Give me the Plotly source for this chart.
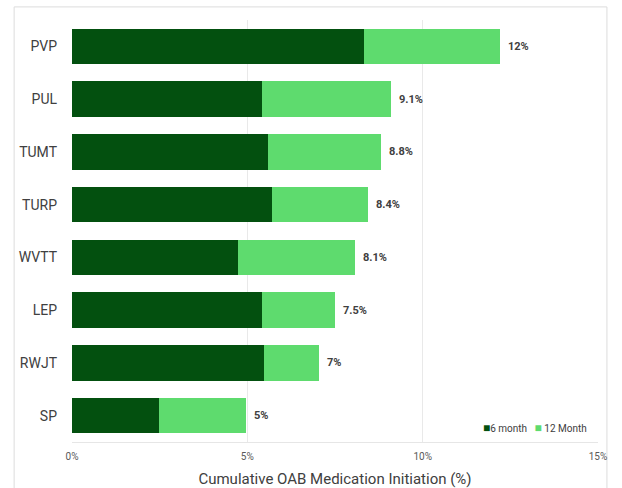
import plotly.graph_objects as go

categories = ["PVP", "PUL", "TUMT", "TURP", "WVTT", "LEP", "RWJT", "SP"]
six_month = [8.33, 5.43, 5.60, 5.70, 4.74, 5.42, 5.47, 2.49]
twelve_month = [12.2, 9.1, 8.81, 8.43, 8.07, 7.5, 7.03, 4.95]
total_labels = ["12%", "9.1%", "8.8%", "8.4%", "8.1%", "7.5%", "7%", "5%"]
x_ticks = [0, 5, 10, 15]
x_tick_labels = ["0%", "5%", "10%", "15%"]
series_names = ["6 month", "12 Month"]

dark = "#03500F"
light = "#5EDB6E"

increment = [t - s for t, s in zip(twelve_month, six_month)]

fig = go.Figure()
fig.add_trace(go.Bar(
    y=categories, x=six_month, orientation="h", name=series_names[0],
    marker=dict(color=dark, line=dict(width=0)),
    hoverinfo="skip", showlegend=False,
))
fig.add_trace(go.Bar(
    y=categories, x=increment, orientation="h", name=series_names[1],
    marker=dict(color=light, line=dict(width=0)),
    hoverinfo="skip", showlegend=False,
))

annotations = []
for cat, tot, lab in zip(categories, twelve_month, total_labels):
    annotations.append(dict(
        x=tot, y=cat, xref="x", yref="y", text=f"<b>{lab}</b>",
        showarrow=False, xanchor="left", yanchor="middle", xshift=6,
        font=dict(family="Roboto", size=11, color="#404040"),
    ))

# legend built as text
legend_text = (f"<span style='color:{dark};font-size:12px'>■</span>{series_names[0]}"
               f"&nbsp;&nbsp;&nbsp;<span style='color:{light};font-size:12px'>■</span> {series_names[1]}")
annotations.append(dict(
    x=0.983, y=0.033, xref="paper", yref="paper", text=legend_text,
    showarrow=False, xanchor="right", yanchor="middle",
    font=dict(family="Roboto", size=10, color="#404040"),
))

fig.update_layout(
    width=622, height=488,
    margin=dict(l=72, r=24, t=20, b=46, autoexpand=False),
    barmode="stack", bargap=0.33,
    plot_bgcolor="white", paper_bgcolor="white",
    font=dict(family="Roboto", color="#404040"),
    showlegend=False,
    annotations=annotations,
    xaxis=dict(
        range=[0, 15], tickvals=x_ticks, ticktext=x_tick_labels,
        showgrid=True, gridcolor="#e9e9e9", gridwidth=1,
        zeroline=False, showline=True, linecolor="#e6e6e6",
        tickfont=dict(size=10, color="#595959"), ticklabelstandoff=5,
        title=dict(text="Cumulative OAB Medication Initiation (%)",
                   font=dict(size=15, color="#404040"), standoff=17),
        automargin=False, fixedrange=True,
    ),
    yaxis=dict(
        categoryorder="array", categoryarray=categories[::-1],
        tickfont=dict(size=14, color="#404040"), ticklabelstandoff=14,
        showgrid=False, zeroline=False, showline=False, ticks="",
        automargin=False, fixedrange=True,
    ),
    shapes=[dict(
        type="rect", xref="paper", yref="paper",
        x0=-0.110, x1=1.017, y0=-0.2, y1=1.031,
        line=dict(color="#dcdcdc", width=1), layer="below",
    )],
)

fig.write_html("out.html")
